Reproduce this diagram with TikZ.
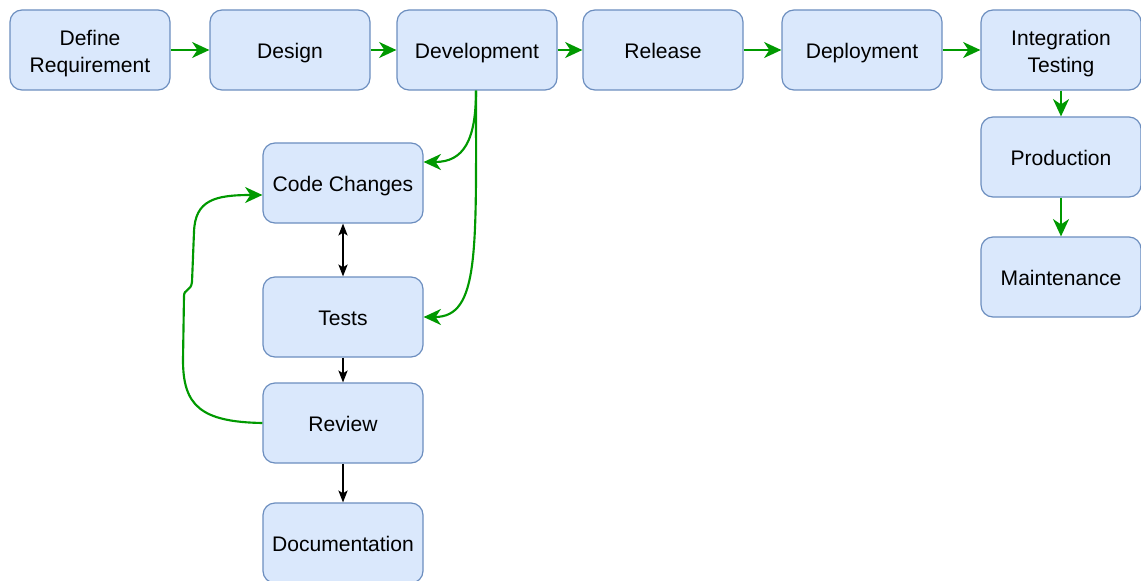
\documentclass[tikz,border=0pt]{standalone}
\usepackage{fontspec}
\setmainfont{Liberation Sans}
\usetikzlibrary{arrows.meta}
\definecolor{boxfill}{HTML}{DAE8FC}
\definecolor{boxline}{HTML}{6C8EBF}
\definecolor{flow}{HTML}{009900}
\newcommand{\lift}{\rule{0pt}{16.5pt}}
\begin{document}
\begin{tikzpicture}[x=0.75pt,y=-0.75pt,
  stage/.style={draw=boxline, fill=boxfill, line width=0.9pt, rounded corners=9pt,
    minimum width=120pt, minimum height=60pt, inner sep=0pt, align=center,
    text height=13.5pt, text depth=0.7pt,
    font=\fontsize{15.8}{20.3}\selectfont},
  twoline/.style={text height=, text depth=},
  flowarrow/.style={draw=flow, line width=1.6pt, -{Stealth[length=13pt,width=12pt,inset=4pt]}},
  plainarrow/.style={draw=black, line width=0.8pt, -{Stealth[length=9pt,width=7pt,inset=2.2pt]}},
  botharrow/.style={draw=black, line width=0.8pt, {Stealth[length=9pt,width=7pt,inset=2.2pt]}-{Stealth[length=9pt,width=7pt,inset=2.2pt]}},
]
\useasboundingbox (0,0) rectangle (1141,581);

% main pipeline
\node[stage, twoline] (req)  at (90,50)   {\lift Define\\Requirement};
\node[stage] (des)  at (290,50)  {Design};
\node[stage] (dev)  at (477,50)  {Development};
\node[stage] (rel)  at (663,50)  {Release};
\node[stage] (dep)  at (862,50)  {Deployment};
\node[stage, twoline] (int)  at (1061,50) {\lift Integration\\Testing};
\node[stage] (prod) at (1061,157) {Production};
\node[stage] (mnt)  at (1061,277) {Maintenance};

% development loop
\node[stage] (code) at (343,183) {Code Changes};
\node[stage] (test) at (343,317) {Tests};
\node[stage] (rev)  at (343,423) {Review};
\node[stage] (doc)  at (343,543) {Documentation};

\draw[flowarrow] (req) -- (des);
\draw[flowarrow] (des) -- (dev);
\draw[flowarrow] (dev) -- (rel);
\draw[flowarrow] (rel) -- (dep);
\draw[flowarrow] (dep) -- (int);
\draw[flowarrow] (int) -- (prod);
\draw[flowarrow] (prod) -- (mnt);

\coordinate (devfoot) at ([xshift=-0.75pt]dev.south);
\draw[flowarrow] (devfoot) .. controls ++(0,50) and ([xshift=30]code.east |- 0,162) .. (code.east |- 0,162);
\draw[flowarrow] (devfoot) .. controls ++(0,160) and ([xshift=42]test.east) .. (test.east);

\draw[botharrow] (code) -- (test);
\draw[plainarrow] (test) -- (rev);
\draw[plainarrow] (rev) -- (doc);

\draw[flowarrow] (rev.west) .. controls (200,422) and (183,405) .. (183,360)
  -- (184,296) .. controls (184,289) and (191,291) .. (192,282)
  -- (194,232) .. controls (195,200) and (215,195) .. (code.west |- 0,195);
\end{tikzpicture}
\end{document}
